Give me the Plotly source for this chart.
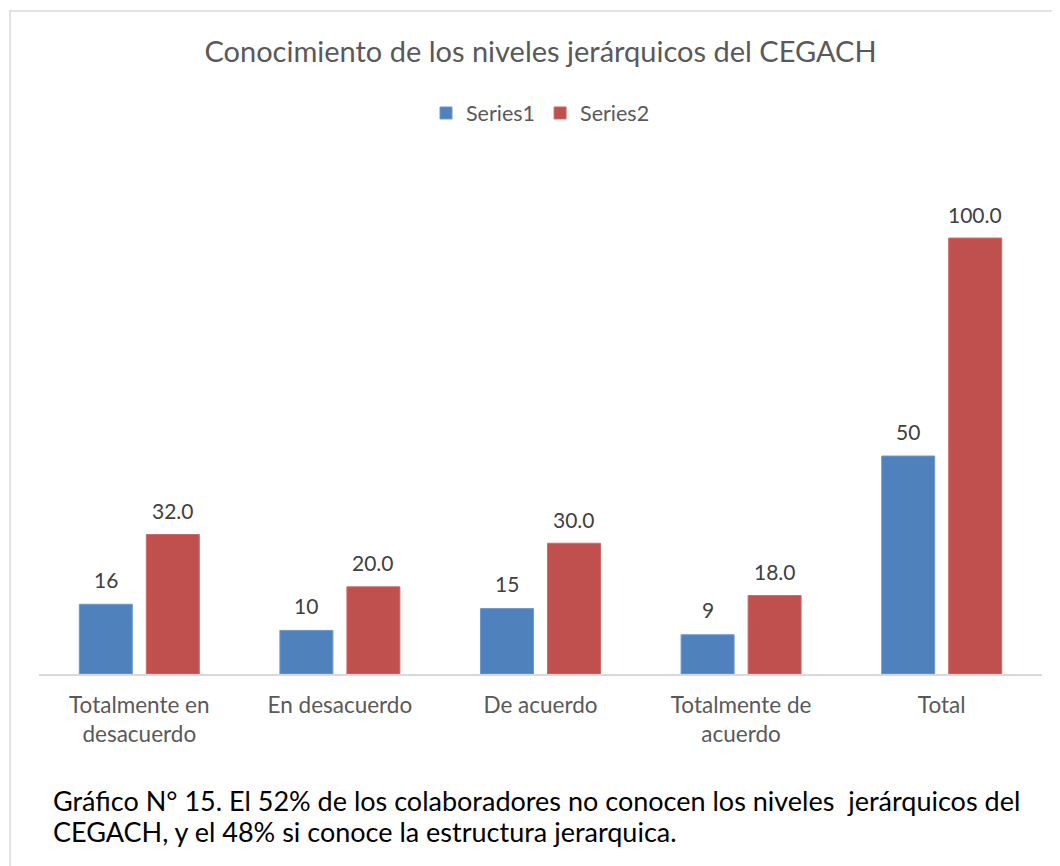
import plotly.graph_objects as go

categories = ["Totalmente en<br>desacuerdo", "En desacuerdo", "De acuerdo", "Totalmente de<br>acuerdo", "Total"]
series1 = [16, 10, 15, 9, 50]
series2 = [32.0, 20.0, 30.0, 18.0, 100.0]
series1_labels = ["16", "10", "15", "9", "50"]
series2_labels = ["32.0", "20.0", "30.0", "18.0", "100.0"]
caption_lines = [
    "Gráfico N° 15. El 52% de los colaboradores no conocen los niveles  jerárquicos del",
    "CEGACH, y el 48% si conoce la estructura jerarquica.",
]

OFF = 8  # default page body margin
W, H = 1060 - OFF, 866 - OFF
L, R, T, B = 39 - OFF, 1042 - OFF, 150 - OFF, 674 - OFF
FONT = "Lato"

def px_x(p):
    return (p - OFF - L) / (R - L)

def px_y(p):
    return (B - (p - OFF)) / (B - T)

fig = go.Figure()
fig.add_trace(go.Bar(name="Series1", x=categories, y=series1,
                     marker=dict(color="#4F81BD", line=dict(color="#6E98CB", width=1))))
fig.add_trace(go.Bar(name="Series2", x=categories, y=series2,
                     marker=dict(color="#C0504D", line=dict(color="#CB6B68", width=1))))

annotations = []
for i, c in enumerate(categories):
    annotations.append(dict(x=c, y=series1[i], xref="x", yref="y", text=series1_labels[i],
                            showarrow=False, xshift=-33.5, yshift=25, yanchor="middle",
                            font=dict(family=FONT, size=21, color="#404040")))
    annotations.append(dict(x=c, y=series2[i], xref="x", yref="y", text=series2_labels[i],
                            showarrow=False, xshift=33.5, yshift=24, yanchor="middle",
                            font=dict(family=FONT, size=21, color="#404040")))

for j, (line, yc) in enumerate(zip(caption_lines, [800, 831])):
    annotations.append(dict(
        x=px_x(51), y=px_y(yc), xref="paper", yref="paper", xanchor="left", yanchor="middle",
        align="left", showarrow=False, text=line,
        font=dict(family=FONT, size=27, color="#000000")))

fig.update_layout(
    width=W, height=H,
    margin=dict(l=L, r=W - R, t=T, b=H - B, pad=0),
    paper_bgcolor="white", plot_bgcolor="white",
    barmode="group", bargap=0.332, bargroupgap=0.209,
    title=dict(text="Conocimiento de los niveles jerárquicos del CEGACH",
               x=0.5, xref="paper", xanchor="center",
               y=1 - (52 - OFF) / H, yref="container", yanchor="middle",
               font=dict(family=FONT, size=29, color="#595959")),
    legend=dict(orientation="h", x=0.5, xanchor="center", y=px_y(113), yanchor="middle",
                font=dict(family=FONT, size=21.5, color="#595959"), itemwidth=30,
                bgcolor="rgba(0,0,0,0)"),
    showlegend=True,
    annotations=annotations,
    shapes=[dict(type="rect", xref="paper", yref="paper",
                 x0=px_x(10), x1=px_x(1075), y0=px_y(885), y1=px_y(11),
                 line=dict(color="#D9D9D9", width=1.5), fillcolor="rgba(0,0,0,0)", layer="below")],
    xaxis=dict(showline=True, linecolor="#D9D9D9", linewidth=1.5, showgrid=False,
               ticks="", tickfont=dict(family=FONT, size=22.5, color="#595959"),
               ticklabelstandoff=10, fixedrange=True),
    yaxis=dict(range=[0, 120.2], visible=False, showgrid=False, fixedrange=True),
)

fig.write_html("out.html")
